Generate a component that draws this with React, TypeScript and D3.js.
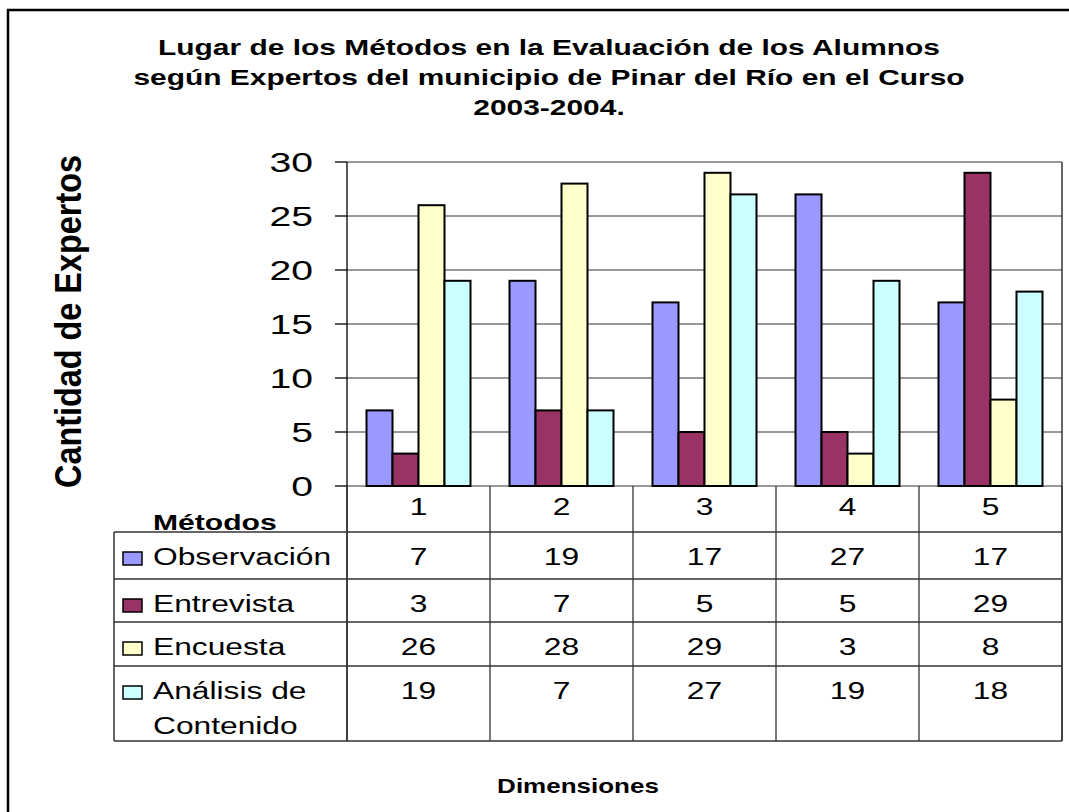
import React from "react";
import * as d3 from "d3";

// chart data
const categories = ["1", "2", "3", "4", "5"];
const seriesNames = ["Observación", "Entrevista", "Encuesta", "Análisis de Contenido"];
const observacion = [7, 19, 17, 27, 17];
const entrevista = [3, 7, 5, 5, 29];
const encuesta = [26, 28, 29, 3, 8];
const analisis = [19, 7, 27, 19, 18];
const yTicks = [0, 5, 10, 15, 20, 25, 30];
const titleLines = [
    "Lugar de los Métodos en la Evaluación de los Alumnos",
    "según Expertos del municipio de Pinar del Río en el Curso",
    "2003-2004.",
];

const colors = ["#9999FF", "#993366", "#FFFFCC", "#CCFFFF"];
const FONT = "'Liberation Sans', Arial, Helvetica, sans-serif";

type STProps = {
    x: number;
    y: number;
    sx?: number;
    size: number;
    anchor?: "start" | "middle" | "end";
    bold?: boolean;
    children: React.ReactNode;
};

// the original picture is stretched sideways, so text gets a horizontal scale
const ST: React.FC<STProps> = ({ x, y, sx = 1.38, size, anchor = "start", bold, children }) => (
    <text
        transform={`translate(${x},${y}) scale(${sx},1)`}
        textAnchor={anchor}
        fontSize={size}
        fontWeight={bold ? "bold" : "normal"}
        fontFamily={FONT}
        fill="#000"
    >
        {children}
    </text>
);

export default function App() {
    const width = 1069,
        height = 812;
    const plot = { left: 347, right: 1062, top: 162, bottom: 486 };
    const tableLeft = 114;
    const rowTops = [532, 579, 622, 666];
    const tableBottom = 741;

    const series = [observacion, entrevista, encuesta, analisis];

    const x = d3.scaleBand<string>().domain(categories).range([plot.left, plot.right]).padding(0);
    const groupPad = 19.5;
    const xInner = d3
        .scaleBand<number>()
        .domain(d3.range(series.length))
        .range([groupPad, x.bandwidth() - groupPad])
        .padding(0);
    const y = d3.scaleLinear().domain([0, 30]).range([plot.bottom, plot.top]);

    const colEdges = [...categories.map((c) => x(c) as number), plot.right];
    const lineColor = "#333";

    return (
        <svg width={width} height={height} style={{ position: "absolute", left: 0, top: 0, background: "#fff" }}>
            {/* outer frame */}
            <rect x={8} y={10} width={1090} height={830} fill="#fff" stroke="#000" strokeWidth={2.5} />

            {/* title */}
            {titleLines.map((t, i) => (
                <ST key={i} x={549} y={55 + i * 30} size={22.5} sx={1.33} anchor="middle" bold>
                    {t}
                </ST>
            ))}

            {/* grid lines */}
            {yTicks.map((t) => (
                <line key={t} x1={plot.left} x2={plot.right} y1={y(t)} y2={y(t)} stroke={lineColor} strokeWidth={1} />
            ))}
            <line x1={plot.right} x2={plot.right} y1={plot.top} y2={tableBottom} stroke={lineColor} strokeWidth={1.5} />

            {/* bars */}
            {categories.map((c, ci) =>
                series.map((s, si) => (
                    <rect
                        key={`${c}-${si}`}
                        x={(x(c) as number) + (xInner(si) as number)}
                        y={y(s[ci])}
                        width={xInner.bandwidth()}
                        height={y(0) - y(s[ci])}
                        fill={colors[si]}
                        stroke="#000"
                        strokeWidth={2}
                    />
                ))
            )}

            {/* y axis */}
            <line x1={plot.left} x2={plot.left} y1={plot.top} y2={tableBottom} stroke="#000" strokeWidth={1.3} />
            {yTicks.map((t) => (
                <g key={t}>
                    <line x1={plot.left - 12} x2={plot.left} y1={y(t)} y2={y(t)} stroke="#000" strokeWidth={1.3} />
                    <ST x={313} y={y(t) + 10} size={27} sx={1.45} anchor="end">
                        {t}
                    </ST>
                </g>
            ))}

            {/* y axis title */}
            <text
                transform={`translate(81,${(155 + 488) / 2}) rotate(-90)`}
                textAnchor="middle"
                fontSize={37}
                fontWeight="bold"
                fontFamily={FONT}
                textLength={333}
                lengthAdjust="spacingAndGlyphs"
            >
                Cantidad de Expertos
            </text>

            {/* data table */}
            {colEdges.map((e, i) => (
                <line key={i} x1={e} x2={e} y1={plot.bottom} y2={tableBottom} stroke={lineColor} strokeWidth={1.3} />
            ))}
            {[...rowTops, tableBottom].map((r, i) => (
                <line key={i} x1={tableLeft} x2={plot.right} y1={r} y2={r} stroke={lineColor} strokeWidth={1.5} />
            ))}
            <line x1={tableLeft} x2={tableLeft} y1={rowTops[0]} y2={tableBottom} stroke={lineColor} strokeWidth={1.5} />

            {categories.map((c) => (
                <ST key={c} x={(x(c) as number) + x.bandwidth() / 2} y={515} size={23} anchor="middle">
                    {c}
                </ST>
            ))}
            <ST x={153} y={530} size={21.5} sx={1.4} bold>
                Métodos
            </ST>

            {seriesNames.map((name, si) => {
                const base = rowTops[si] + 33;
                const words = si === 3 ? ["Análisis de", "Contenido"] : [name];
                return (
                    <g key={name}>
                        <rect x={123} y={base - 13} width={19} height={13} fill={colors[si]} stroke="#000" strokeWidth={1.5} />
                        {words.map((w, wi) => (
                            <ST key={wi} x={153} y={base + wi * 35} size={23}>
                                {w}
                            </ST>
                        ))}
                        {categories.map((c, ci) => (
                            <ST key={c} x={(x(c) as number) + x.bandwidth() / 2} y={base} size={23} anchor="middle">
                                {series[si][ci]}
                            </ST>
                        ))}
                    </g>
                );
            })}

            {/* x axis title */}
            <ST x={578} y={793} size={20} sx={1.3} anchor="middle" bold>
                Dimensiones
            </ST>
        </svg>
    );
}
